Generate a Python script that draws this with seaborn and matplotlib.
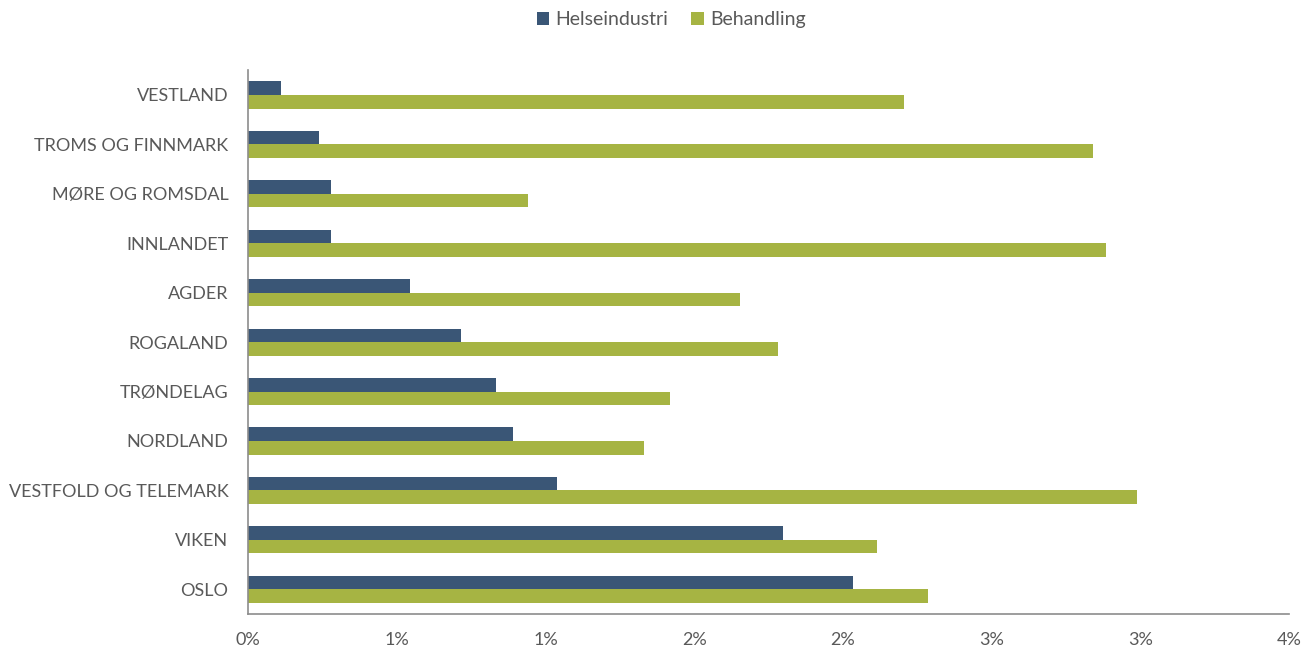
import pandas as pd
import matplotlib.pyplot as plt
import seaborn as sns
from matplotlib.ticker import FuncFormatter, MultipleLocator

# regions top to bottom as shown in the chart
regions = ["VESTLAND", "TROMS OG FINNMARK", "MØRE OG ROMSDAL", "INNLANDET", "AGDER",
           "ROGALAND", "TRØNDELAG", "NORDLAND", "VESTFOLD OG TELEMARK", "VIKEN", "OSLO"]
helseindustri = [0.11, 0.24, 0.28, 0.28, 0.545, 0.715, 0.835, 0.89, 1.04, 1.80, 2.035]
behandling = [2.205, 2.84, 0.94, 2.885, 1.655, 1.78, 1.42, 1.33, 2.99, 2.115, 2.285]
series = ["Helseindustri", "Behandling"]

df = pd.DataFrame({"region": regions * 2,
                   "andel": helseindustri + behandling,
                   "serie": [series[0]] * len(regions) + [series[1]] * len(regions)})

sns.set_theme(style="white")
plt.rcParams['font.family'] = ['Lato', 'DejaVu Sans']
grey = "#595959"

fig = plt.figure(figsize=(13.08, 6.5), dpi=100)
ax = fig.add_axes([0.1896, 0.0554, 0.796, 0.8366])

sns.barplot(data=df, y="region", x="andel", hue="serie", orient="h", saturation=1,
            palette=["#3A5676", "#A6B443"], width=0.55, linewidth=0, ax=ax, order=regions)

ax.set_xlim(0, 3.5)
ax.xaxis.set_major_locator(MultipleLocator(0.5))
# Excel-style rounding of the tick labels (0.5 -> 1%)
ax.xaxis.set_major_formatter(FuncFormatter(lambda v, p: f"{int(v + 0.5 + 1e-9)}%"))
ax.set_xlabel("")
ax.set_ylabel("")
ax.tick_params(axis="x", length=0, pad=13, labelsize=13, colors=grey)
ax.tick_params(axis="y", length=0, pad=14, labelsize=13, colors=grey)
for s in ["top", "right"]:
    ax.spines[s].set_visible(False)
for s in ["left", "bottom"]:
    ax.spines[s].set_color("#8C8C8C")
    ax.spines[s].set_linewidth(1.2)

leg = ax.legend(loc="center", bbox_to_anchor=(0.513, 0.97), bbox_transform=fig.transFigure,
                ncol=2, frameon=False, fontsize=14, handlelength=0.65, handleheight=0.65,
                handletextpad=0.3, columnspacing=1.2, labelcolor=grey)

fig.savefig("out.png", dpi=100)
